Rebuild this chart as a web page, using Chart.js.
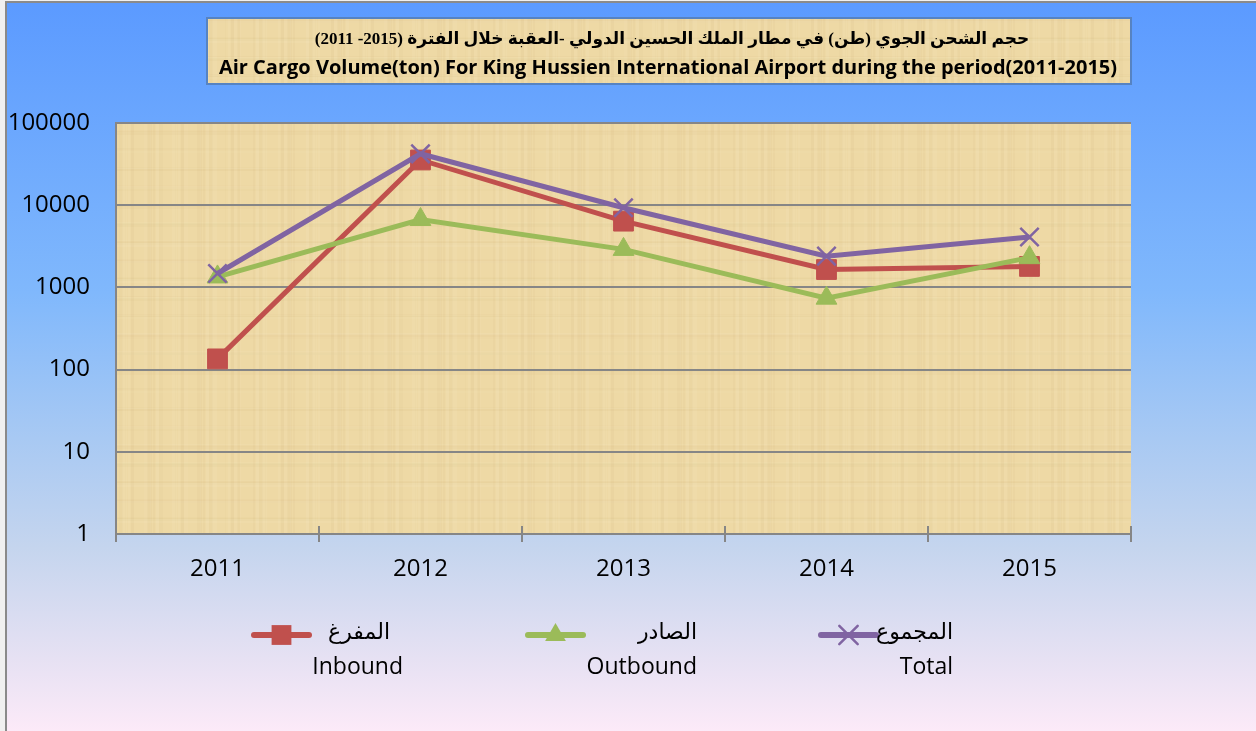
<!DOCTYPE html>
<html>
<head>
<meta charset="utf-8">
<script src="https://cdn.jsdelivr.net/npm/chart.js@4/dist/chart.umd.min.js"></script>
<style>
  body { margin: 0; background: #f0f0f0; }
  canvas { display: block; }
</style>
</head>
<body>
<canvas id="cargo" width="1256" height="731"></canvas>
<script>
// data (tons, log scale)
const years = ['2011', '2012', '2013', '2014', '2015'];
const inbound = [135, 35500, 6400, 1650, 1800];
const outbound = [1340, 6700, 2900, 740, 2300];
const total = [1475, 42200, 9300, 2400, 4100];
const seriesArabic = ['المفرغ', 'الصادر', 'المجموع'];
const seriesEnglish = ['Inbound', 'Outbound', 'Total'];
const yTicks = [1, 10, 100, 1000, 10000, 100000];
const titleArabic = 'حجم الشحن الجوي (طن) في مطار الملك الحسين الدولي -العقبة خلال الفترة (2015- 2011)';
const titleEnglish = 'Air Cargo Volume(ton) For King Hussien International Airport during the period(2011-2015)';

const FONT = "'Open Sans', 'DejaVu Sans', sans-serif";
const AR_FONT = "'Liberation Serif', 'DejaVu Sans', serif";

// papyrus-ish texture, deterministic stripes
function papyrus(ctx) {
  const c = document.createElement('canvas');
  c.width = 240; c.height = 240;
  const g = c.getContext('2d');
  g.fillStyle = '#eed9a5';
  g.fillRect(0, 0, 240, 240);
  for (let i = 0; i < 50; i++) {
    const x = (i * 53) % 240;
    const w = 1 + (i % 5);
    const a = 0.03 + 0.04 * ((i * 7) % 5) / 4;
    g.fillStyle = i % 2 ? 'rgba(190,160,100,' + a + ')' : 'rgba(255,245,215,' + (a + 0.03) + ')';
    g.fillRect(x, 0, w, 240);
  }
  for (let i = 0; i < 40; i++) {
    const y = (i * 37) % 240;
    const h = 1 + (i % 4);
    const a = 0.02 + 0.04 * ((i * 11) % 5) / 4;
    g.fillStyle = i % 3 ? 'rgba(195,165,105,' + a + ')' : 'rgba(255,248,220,' + (a + 0.03) + ')';
    g.fillRect(0, y, 240, h);
  }
  return ctx.createPattern(c, 'repeat');
}

function drawMarker(ctx, style, r, x, y, color, bw) {
  ctx.save();
  ctx.fillStyle = color;
  ctx.strokeStyle = color;
  ctx.lineWidth = bw;
  ctx.beginPath();
  if (style === 'rect') {
    const s = r * Math.SQRT1_2;
    ctx.rect(x - s, y - s, 2 * s, 2 * s);
    ctx.fill();
  } else if (style === 'triangle') {
    ctx.moveTo(x, y - r);
    ctx.lineTo(x + r * 0.866, y + r * 0.5);
    ctx.lineTo(x - r * 0.866, y + r * 0.5);
    ctx.closePath();
    ctx.fill();
  } else {
    const s = r * Math.SQRT1_2;
    ctx.moveTo(x - s, y - s); ctx.lineTo(x + s, y + s);
    ctx.moveTo(x - s, y + s); ctx.lineTo(x + s, y - s);
    ctx.stroke();
  }
  ctx.restore();
}

const decor = {
  id: 'decor',
  beforeDraw(chart) {
    const ctx = chart.ctx;
    const W = chart.width, H = chart.height;
    ctx.save();
    ctx.fillStyle = '#f0f0f0';
    ctx.fillRect(0, 0, W, H);
    const grad = ctx.createLinearGradient(0, 0, 0, H);
    grad.addColorStop(0, '#5b9aff');
    grad.addColorStop(0.4, '#80b8fc');
    grad.addColorStop(0.6, '#a8c9f3');
    grad.addColorStop(0.75, '#c5d5ee');
    grad.addColorStop(0.9, '#e6e1f3');
    grad.addColorStop(1, '#fceaf8');
    ctx.fillStyle = grad;
    ctx.fillRect(6, 2, W - 6, H - 2);
    ctx.fillStyle = '#8a8a8a';
    ctx.fillRect(5, 1, 2, H - 1);
    ctx.fillRect(5, 1, W - 5, 2);

    const pat = papyrus(ctx);
    const a = chart.chartArea;
    ctx.fillStyle = pat;
    ctx.fillRect(a.left, a.top, a.right - a.left, a.bottom - a.top);

    // title box
    ctx.fillStyle = pat;
    ctx.fillRect(207, 18, 924, 66);
    ctx.strokeStyle = '#5683c2';
    ctx.lineWidth = 2;
    ctx.strokeRect(207, 18, 924, 66);
    ctx.fillStyle = '#000';
    ctx.textAlign = 'center';
    ctx.textBaseline = 'middle';
    ctx.direction = 'rtl';
    ctx.font = 'bold 17px ' + AR_FONT;
    ctx.fillText(titleArabic, 672, 40);
    ctx.direction = 'ltr';
    ctx.font = 'bold 20px ' + FONT;
    ctx.fillText(titleEnglish, 668, 68);
    ctx.restore();
  },
  afterDraw(chart) {
    const ctx = chart.ctx;
    const a = chart.chartArea;
    const n = years.length;
    ctx.save();
    // inner halves of the x tick marks
    ctx.strokeStyle = '#868686';
    ctx.lineWidth = 2;
    for (let i = 0; i <= n; i++) {
      const px = Math.round(a.left + i * (a.right - a.left) / n);
      ctx.beginPath();
      ctx.moveTo(px, a.bottom - 8);
      ctx.lineTo(px, a.bottom);
      ctx.stroke();
    }
    // legend
    const slots = [
      {x0: 254, x1: 309, ar: 390, en: 403},
      {x0: 528, x1: 583, ar: 697, en: 697},
      {x0: 821, x1: 876, ar: 953, en: 953}
    ];
    [0, 1, 2].forEach(i => {
      const ds = chart.data.datasets[i];
      const s = slots[i];
      const y = 635;
      ctx.strokeStyle = ds.borderColor;
      ctx.lineWidth = 6;
      ctx.lineCap = 'round';
      ctx.beginPath();
      ctx.moveTo(s.x0, y);
      ctx.lineTo(s.x1, y);
      ctx.stroke();
      drawMarker(ctx, ds.pointStyle, ds.pointRadius, (s.x0 + s.x1) / 2, y, ds.borderColor, ds.pointBorderWidth);
      ctx.fillStyle = '#000';
      ctx.textBaseline = 'middle';
      ctx.font = '22px ' + AR_FONT;
      ctx.direction = 'rtl';
      ctx.textAlign = 'right';
      ctx.fillText(seriesArabic[i], s.ar, y - 2);
      ctx.direction = 'ltr';
      ctx.textAlign = 'right';
      ctx.font = '23px ' + FONT;
      ctx.fillText(seriesEnglish[i], s.en, 667);
    });
    ctx.restore();
  }
};

new Chart(document.getElementById('cargo'), {
  type: 'line',
  data: {
    labels: years,
    datasets: [
      {
        label: seriesEnglish[0], data: inbound, order: 2,
        borderColor: '#c0504d', backgroundColor: '#c0504d',
        borderWidth: 5, pointStyle: 'rect', pointRadius: 14, pointBorderWidth: 1
      },
      {
        label: seriesEnglish[1], data: outbound, order: 1,
        borderColor: '#9bbb59', backgroundColor: '#9bbb59',
        borderWidth: 5, pointStyle: 'triangle', pointRadius: 12, pointBorderWidth: 1
      },
      {
        label: seriesEnglish[2], data: total, order: 0,
        borderColor: '#8064a2', backgroundColor: '#8064a2',
        borderWidth: 5, pointStyle: 'crossRot', pointRadius: 13, pointBorderWidth: 2.5
      }
    ]
  },
  options: {
    responsive: false,
    animation: false,
    layout: { padding: { left: 0, top: 123, right: 125, bottom: 0 } },
    plugins: {
      legend: { display: false },
      title: { display: false },
      tooltip: { enabled: false }
    },
    scales: {
      x: {
        offset: true,
        grid: { offset: true, drawOnChartArea: false, color: '#868686', lineWidth: 2, tickLength: 8 },
        border: { color: '#868686', width: 2 },
        ticks: { color: '#000', font: { family: FONT, size: 24 }, padding: 13 },
        afterFit(s) { s.height = 197; }
      },
      y: {
        type: 'logarithmic',
        min: 1,
        max: 100000,
        grid: { color: '#868686', lineWidth: 2, drawTicks: false },
        border: { color: '#868686', width: 2 },
        ticks: {
          color: '#000',
          font: { family: FONT, size: 24 },
          padding: 26,
          callback: v => String(v)
        },
        afterBuildTicks(s) { s.ticks = yTicks.map(v => ({ value: v })); },
        afterFit(s) { s.width = 116; }
      }
    }
  },
  plugins: [decor]
});
</script>
</body>
</html>
